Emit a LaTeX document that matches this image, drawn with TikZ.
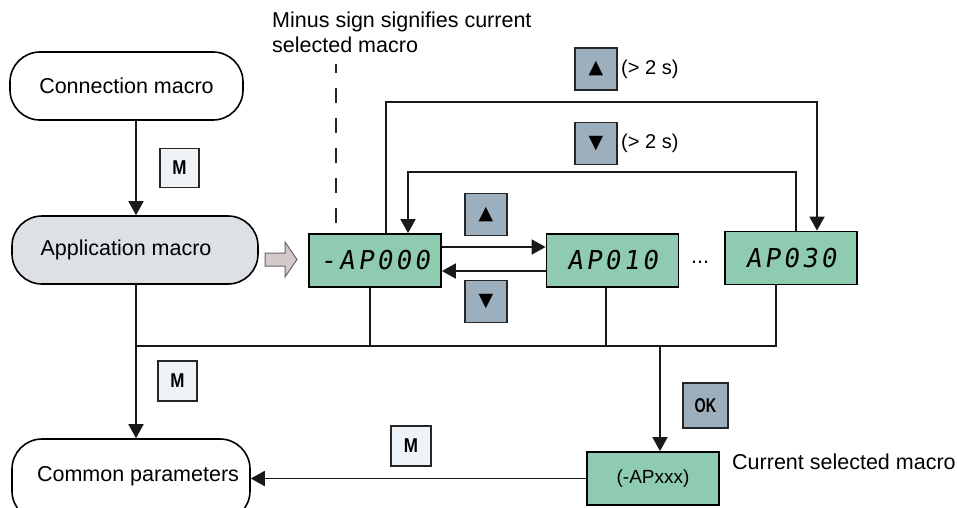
\documentclass[tikz,border=0pt]{standalone}
\usepackage{fontspec}
\setmainfont{Liberation Sans}
\newfontfamily\segfont[FakeSlant=0.15,LetterSpace=12]{DejaVu Sans Mono}
\newfontfamily\symfont{DejaVu Sans}
\usetikzlibrary{arrows.meta,calc}
\definecolor{dispgreen}{HTML}{8FCBB0}
\definecolor{keyblue}{HTML}{9DAFBD}
\definecolor{keylight}{HTML}{EEF3F8}
\definecolor{appgray}{HTML}{DDE1E6}
\definecolor{hollowfill}{HTML}{D5C9C9}
\tikzset{
  rbox/.style={draw=black, line width=1.6pt, rounded corners=30pt, inner sep=0pt,
    font=\fontsize{21.5}{25}\selectfont},
  disp/.style={draw=black, line width=1.8pt, fill=dispgreen, inner sep=0pt,
    minimum width=132pt, minimum height=53pt, font=\segfont\fontsize{26}{26}\selectfont},
  keyb/.style={draw=black!85, line width=1.4pt, fill=keyblue, inner sep=0pt,
    minimum width=42pt, minimum height=42pt, font=\symfont\fontsize{19}{19}\selectfont},
  keym/.style={draw=black!85, line width=1.4pt, fill=keylight, inner sep=0pt,
    minimum width=39pt, minimum height=39pt, font=\bfseries\fontsize{20}{20}\selectfont},
  conn/.style={draw=black!90, line width=1.8pt},
  tip/.style={-{Triangle[width=15pt,length=14pt]}},
  lbl/.style={inner sep=0pt, font=\fontsize{21.5}{25}\selectfont},
  slbl/.style={inner sep=0pt, font=\fontsize{20}{24}\selectfont},
}
\newcommand{\mkey}{\scalebox{0.85}[1]{M}}
\begin{document}
\begin{tikzpicture}[x=1pt,y=-1pt]
\useasboundingbox (0,0) rectangle (957,507);
\begin{scope}
\clip (0,0) rectangle (957,507);
% main boxes
\node[rbox, minimum width=233pt, minimum height=68pt] (connm) at (126.5,86) {Connection macro};
\node[rbox, fill=appgray, minimum width=246pt, minimum height=68pt] (app) at (135,250) {\hspace*{-18pt}Application macro};
\node[rbox, minimum width=238pt, minimum height=82pt] (comm) at (131,480) {\hspace*{14pt}\raisebox{13pt}{Common parameters}};
\end{scope}
% displays
\node[disp] (d0) at (375,260.5) {-AP000};
\node[disp] (d1) at (612.5,260.5) {AP010};
\node[disp] (d3) at (791,258) {AP030};
\node[disp, minimum height=53pt, font=\fontsize{19}{19}\selectfont] (cur) at (653,478.5) {(-APxxx)};
\node[lbl] (dots) at (700,262) {...};
% keys
\node[keym] (km1) at (179.5,168) {\mkey};
\node[keym, minimum height=40pt] (km2) at (177.5,381) {\mkey};
\node[keym, minimum width=40pt, minimum height=40pt] (km3) at (411,446) {\mkey};
\node[keyb, minimum width=45pt, minimum height=45pt, font=\bfseries\fontsize{20}{20}\selectfont] (kok) at (705.5,405.5) {\scalebox{0.72}[1]{OK}};
\node[keyb] (kup) at (486,214.5) {▲};
\node[keyb] (kdn) at (486,301.5) {▼};
\node[keyb] (kupl) at (596,69) {▲};
\node[keyb] (kdnl) at (596,143.5) {▼};
\node[slbl, anchor=west] (tupl) at (kupl.east) {\,(> 2 s)};
\node[slbl, anchor=west] (tdnl) at (kdnl.east) {\,(> 2 s)};
% annotations
\node[lbl, anchor=base west] (note1) at (272,27) {Minus sign signifies current};
\node[lbl, anchor=base west] (note2) at (272,52) {selected macro};
\node[lbl, anchor=west] (curlbl) at (732,462) {Current selected macro};
\coordinate (dtop) at (336,64);
\coordinate (dbot) at (336,223);
\draw[black!85, line width=1.6pt, dash pattern=on 15pt off 15pt] (dbot) -- (dtop);
% hollow arrow
\draw[line width=1pt, draw=black!60, fill=hollowfill]
  (265,253) -- (285,253) -- (285,242) -- (297,259.5) -- (285,277) -- (285,266) -- (265,266) -- cycle;
% helper coordinates
\coordinate (xa) at (136,0);
\coordinate (ybus) at (0,346);
\coordinate (x0b) at (370,0);
\coordinate (x1b) at (606,0);
\coordinate (x3b) at (776,0);
\coordinate (xok) at (660,0);
\coordinate (yr) at (0,247);
\coordinate (yl) at (0,271);
\coordinate (xl1a) at (386,0);
\coordinate (xl1b) at (817,0);
\coordinate (yl1) at (0,102);
\coordinate (xl2a) at (408,0);
\coordinate (xl2b) at (796,0);
\coordinate (yl2) at (0,172);
% connectors
\draw[conn, tip] (connm.south -| xa) -- (app.north -| xa);
\draw[conn, tip] (app.south -| xa) -- (comm.north -| xa);
\draw[conn] (xa |- ybus) -- (x3b |- ybus) -- (x3b |- d3.south);
\draw[conn] (d0.south -| x0b) -- (x0b |- ybus);
\draw[conn] (d1.south -| x1b) -- (x1b |- ybus);
\draw[conn, tip] (xok |- ybus) -- (cur.north -| xok);
\draw[conn, tip] (d0.east |- yr) -- (d1.west |- yr);
\draw[conn, tip] (d1.west |- yl) -- (d0.east |- yl);
\draw[conn, tip] (d0.north -| xl1a) -- (xl1a |- yl1) -- (xl1b |- yl1) -- (d3.north -| xl1b);
\draw[conn, tip] (d3.north -| xl2b) -- (xl2b |- yl2) -- (xl2a |- yl2) -- (d0.north -| xl2a);
\draw[conn, tip] (cur.west) -- (cur.west -| comm.east);
\end{tikzpicture}
\end{document}
